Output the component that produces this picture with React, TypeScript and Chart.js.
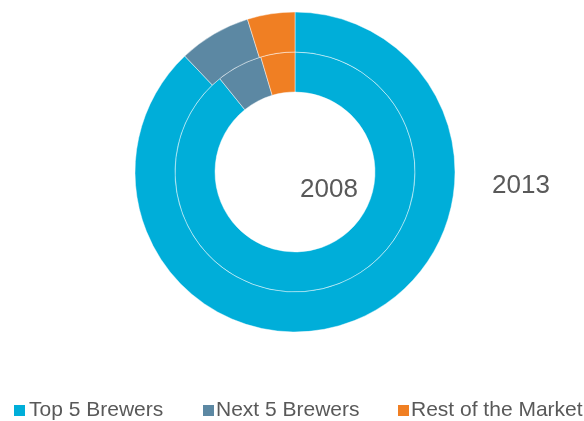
import React, { useEffect, useRef } from "react";
import { Chart, registerables } from "chart.js";

Chart.register(...registerables);

const categories = ["Top 5 Brewers", "Next 5 Brewers", "Rest of the Market"];
const share2013 = [87.9, 7.3, 4.8];
const share2008 = [89.2, 6.2, 4.6];
const colors = ["#00AED9", "#5C88A3", "#F07F23"];
const legendBoxX = [14, 203, 398];
const legendTextX = [29, 216, 411];

export default function App() {
  const ref = useRef<HTMLCanvasElement | null>(null);

  useEffect(() => {
    document.body.style.margin = "0";
    if (!ref.current) return;
    const chart = new Chart(ref.current, {
      type: "doughnut",
      data: {
        labels: categories,
        datasets: [
          {
            label: "2013",
            data: share2013,
            backgroundColor: colors,
            borderColor: "rgba(255,255,255,0.45)",
            borderWidth: 1,
          },
          {
            label: "2008",
            data: share2008,
            backgroundColor: colors,
            borderColor: "rgba(255,255,255,0.45)",
            borderWidth: 1,
          },
        ],
      },
      options: {
        responsive: false,
        animation: false,
        cutout: "50%",
        layout: { padding: { top: 11.5, bottom: 88.5, left: 134.5, right: 128.5 } },
        plugins: {
          legend: { display: false },
          tooltip: { enabled: false },
        },
      },
    });
    return () => chart.destroy();
  }, []);

  const font = '"Liberation Sans", Arial, sans-serif';
  return (
    <div style={{ position: "absolute", left: 0, top: 0, width: 584, height: 421, background: "#fff", fontFamily: font, color: "#595959", overflow: "hidden" }}>
      <canvas ref={ref} width={584} height={421} style={{ position: "absolute", left: 0, top: 0 }} />
      <span style={{ position: "absolute", left: 300, top: 175, fontSize: 26, lineHeight: "26px", whiteSpace: "nowrap" }}>2008</span>
      <span style={{ position: "absolute", left: 492, top: 171, fontSize: 26, lineHeight: "26px", whiteSpace: "nowrap" }}>2013</span>
      {categories.map((c, i) => (
        <div key={c}>
          <div style={{ position: "absolute", left: legendBoxX[i], top: 405, width: 11, height: 11, background: colors[i] }} />
          <span style={{ position: "absolute", left: legendTextX[i], top: 398, fontSize: 21, lineHeight: "21px", whiteSpace: "nowrap" }}>{c}</span>
        </div>
      ))}
    </div>
  );
}
